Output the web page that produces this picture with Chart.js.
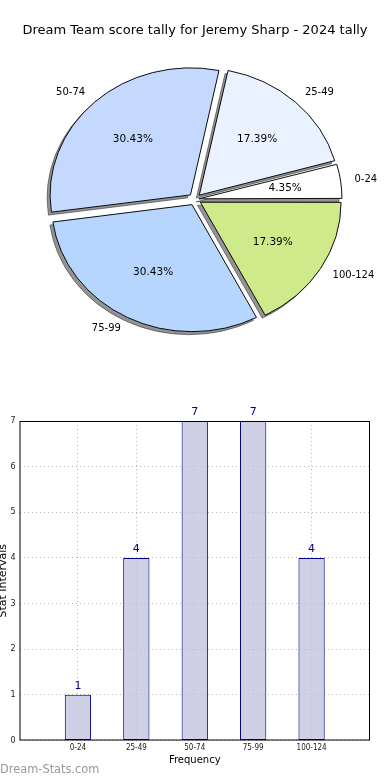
<!DOCTYPE html>
<html>
<head>
<meta charset="utf-8">
<script src="https://cdn.jsdelivr.net/npm/chart.js@4.4.1/dist/chart.umd.min.js"></script>
<style>
  body { margin: 0; background: #fff; width: 390px; height: 780px; overflow: hidden; }
  #pieBox { position: absolute; left: 0; top: 0; width: 390px; height: 350px; }
  #barBox { position: absolute; left: 0; top: 350px; width: 390px; height: 430px; }
</style>
</head>
<body>
<div id="pieBox"><canvas id="pieChart"></canvas></div>
<div id="barBox"><canvas id="barChart"></canvas></div>
<script>
// data
const categories = ['0-24', '25-49', '50-74', '75-99', '100-124'];
const counts = [1, 4, 7, 7, 4];
const sliceColors = ['#ffffff', '#eaf2ff', '#c5d9ff', '#b6d6ff', '#cfea8b'];
const yTicks = [0, 1, 2, 3, 4, 5, 6, 7];

const FONT = "'DejaVu Sans', sans-serif";
const total = counts.reduce((a, b) => a + b, 0);
const squash = 0.905;   // the reference pie is a bit flattened
const EXPLODE = 7;      // px each slice is pushed out

// matplotlib goes counter-clockwise from 3 o'clock, chart.js clockwise -> reverse
const pieLabels = categories.slice().reverse();
const pieValues = counts.slice().reverse();
const pieColors = sliceColors.slice().reverse();

// chart.js moves an arc by offset/4 * (1 + fix) where fix = 1 - sin(circumference)
function sliceOffset(c) {
    const circ = 2 * Math.PI * pieValues[c.dataIndex] / total;
    const fix = 1 - Math.sin(Math.min(Math.PI, circ));
    return 4 * EXPLODE / (1 + fix);
}

const pieShape = {
    id: 'pieShape',
    beforeDatasetsDraw(chart) {
        const ctx = chart.ctx;
        const a = chart.chartArea;
        const cx = (a.left + a.right) / 2, cy = (a.top + a.bottom) / 2;
        ctx.save();
        ctx.translate(cx, cy);
        ctx.scale(1, squash);
        ctx.translate(-cx, -cy);
        // gray shadow copies under every slice
        ctx.save();
        ctx.translate(-3, 3 / squash);
        chart.getDatasetMeta(0).data.forEach(arc => {
            const shadowOpts = Object.assign({}, arc.options, {
                backgroundColor: 'rgba(0,0,0,0.42)',
                borderColor: 'rgba(0,0,0,0.42)'
            });
            const ghost = Object.create(arc, { options: { value: shadowOpts, writable: true } });
            arc.draw.call(ghost, ctx);
        });
        ctx.restore();
    },
    afterDatasetsDraw(chart) {
        const ctx = chart.ctx;
        ctx.restore();
        const meta = chart.getDatasetMeta(0);
        const a = chart.chartArea;
        const cx = (a.left + a.right) / 2, cy = (a.top + a.bottom) / 2;
        ctx.save();
        ctx.fillStyle = '#000';
        meta.data.forEach((arc, i) => {
            const p = arc.getProps(['startAngle', 'endAngle', 'outerRadius'], true);
            const mid = (p.startAngle + p.endAngle) / 2;
            const dx = Math.cos(mid), dy = Math.sin(mid);
            // category label
            const lr = EXPLODE + p.outerRadius * 1.1;
            ctx.font = '10px ' + FONT;
            ctx.textBaseline = 'middle';
            ctx.textAlign = dx > 0 ? 'left' : 'right';
            ctx.fillText(pieLabels[i], cx + lr * dx, cy + lr * dy * squash);
            // percentage
            const pr = EXPLODE + p.outerRadius * 0.6;
            ctx.font = '10.5px ' + FONT;
            ctx.textAlign = 'center';
            const pct = (pieValues[i] / total * 100).toFixed(2) + '%';
            ctx.fillText(pct, cx + pr * dx, cy + pr * dy * squash);
        });
        ctx.restore();
    }
};

new Chart(document.getElementById('pieChart'), {
    type: 'pie',
    data: {
        labels: pieLabels,
        datasets: [{
            data: pieValues,
            backgroundColor: pieColors,
            borderColor: '#000',
            borderWidth: 1,
            offset: sliceOffset,
            hoverOffset: 0
        }]
    },
    options: {
        responsive: true,
        maintainAspectRatio: false,
        animation: false,
        rotation: 90,
        radius: 140,
        layout: { padding: { left: 0, right: 0, top: 0, bottom: 6 } },
        plugins: {
            legend: { display: false },
            tooltip: { enabled: false },
            title: {
                display: true,
                text: 'Dream Team score tally for Jeremy Sharp - 2024 tally',
                color: '#000',
                font: { family: FONT, size: 13, weight: 'normal', lineHeight: 1.2 },
                padding: { top: 23, bottom: 16 }
            }
        }
    },
    plugins: [pieShape]
});

// bar chart
const barPoints = categories.map((c, i) => ({ x: i, y: counts[i] }));

const barExtras = {
    id: 'barExtras',
    afterDatasetsDraw(chart) {
        const ctx = chart.ctx;
        const a = chart.chartArea;
        ctx.save();
        ctx.strokeStyle = '#000';
        ctx.lineWidth = 1;
        ctx.strokeRect(a.left + 0.5, a.top + 0.5, a.right - a.left - 1, a.bottom - a.top - 1);
        ctx.fillStyle = '#00008b';
        ctx.font = '11px ' + FONT;
        ctx.textAlign = 'center';
        ctx.textBaseline = 'middle';
        chart.getDatasetMeta(0).data.forEach((bar, i) => {
            ctx.fillText(String(counts[i]), bar.x, bar.y - 9);
        });
        ctx.fillStyle = '#999';
        ctx.font = '11.4px ' + FONT;
        ctx.textAlign = 'left';
        ctx.fillText('Dream-Stats.com', 0, chart.height - 10);
        ctx.restore();
    }
};

new Chart(document.getElementById('barChart'), {
    type: 'bar',
    data: {
        datasets: [{
            data: barPoints,
            backgroundColor: 'rgba(191,192,222,0.75)',
            borderColor: '#00008b',
            borderWidth: 1,
            borderSkipped: false,
            categoryPercentage: 1,
            barPercentage: 0.45
        }]
    },
    options: {
        responsive: true,
        maintainAspectRatio: false,
        animation: false,
        layout: { padding: { left: 0, right: 20, top: 71, bottom: 0 } },
        plugins: { legend: { display: false }, tooltip: { enabled: false } },
        scales: {
            x: {
                type: 'linear',
                min: -1,
                max: 5,
                offset: false,
                afterBuildTicks: s => { s.ticks = categories.map((c, i) => ({ value: i })); },
                afterFit: s => { s.height = 39.5; },
                ticks: {
                    callback: v => categories[v],
                    color: '#222',
                    font: { family: "'Liberation Sans Narrow', 'DejaVu Sans Condensed', sans-serif", size: 8 },
                    padding: 3,
                    maxRotation: 0,
                    autoSkip: false
                },
                grid: { color: '#b8b8b8', drawTicks: false, offset: false },
                border: { display: false, dash: [1, 3] },
                title: {
                    display: true,
                    text: 'Frequency',
                    color: '#000',
                    font: { family: FONT, size: 10 },
                    padding: { top: 0, bottom: 14 }
                }
            },
            y: {
                min: 0,
                max: 7,
                afterBuildTicks: s => { s.ticks = yTicks.map(v => ({ value: v })); },
                afterFit: s => { s.width = 19.5; },
                ticks: {
                    color: '#222',
                    font: { family: FONT, size: 8 },
                    padding: 4
                },
                grid: { color: '#b8b8b8', drawTicks: false },
                border: { display: false, dash: [1, 3] },
                title: {
                    display: true,
                    text: 'Stat Intervals',
                    color: '#000',
                    font: { family: FONT, size: 11, lineHeight: 1 },
                    padding: { top: -2, bottom: 0 }
                }
            }
        }
    },
    plugins: [barExtras]
});
</script>
</body>
</html>
